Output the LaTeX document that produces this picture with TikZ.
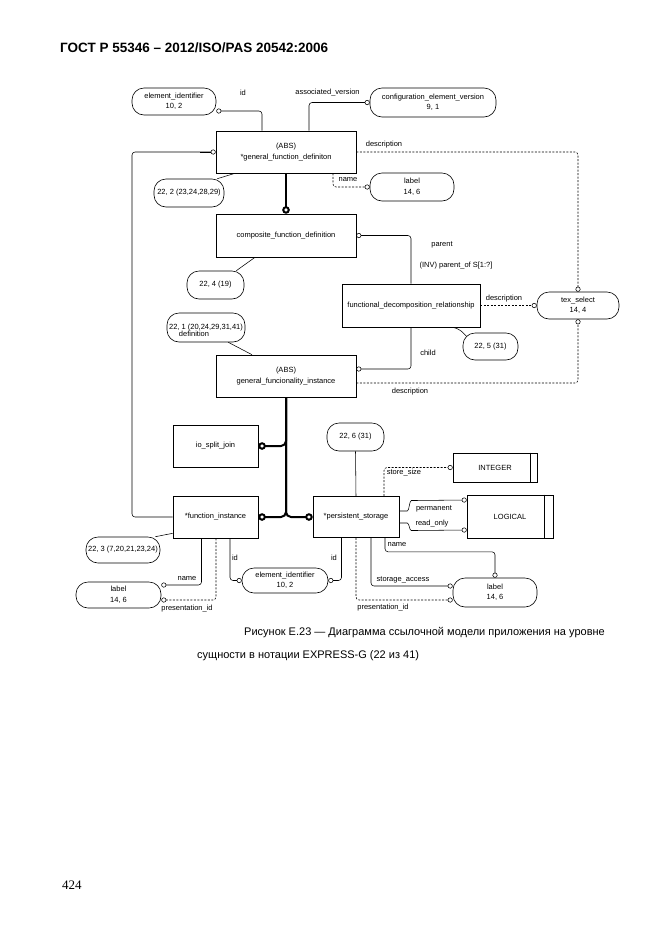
\documentclass[tikz,border=0pt]{standalone}
\usepackage{fontspec}
\setmainfont{Liberation Sans}
\newfontfamily\serifpg{Liberation Serif}
\usetikzlibrary{arrows.meta}
\begin{document}
\begin{tikzpicture}[x=1pt,y=-1pt,
  every node/.style={font=\fontsize{7.5}{10.5}\selectfont, inner sep=0pt},
  ent/.style={draw, line width=0.6pt, align=center},
  oval/.style={draw, line width=0.6pt, rounded corners=12pt, align=center},
  conn/.style={line width=0.55pt, rounded corners=3pt},
  dconn/.style={conn, dash pattern=on 2pt off 1.5pt},
  ring/.style={-{Circle[open,length=5pt,width=5pt]}},
  thk/.style={line width=2pt, rounded corners=5pt, -{Circle[open,length=7.5pt,width=7.5pt]}},
  lab/.style={font=\fontsize{7.5}{9}\selectfont}
]
\useasboundingbox (0,0) rectangle (662,935);

% header, caption, page number
\node[anchor=west, font=\bfseries\fontsize{13.5}{16}\selectfont] (hdr) at (60,48) {ГОСТ Р 55346 – 2012/ISO/PAS 20542:2006};
\node[anchor=west, font=\fontsize{11}{13}\selectfont] (cap1) at (244,633) {Рисунок Е.23 — Диаграмма ссылочной модели приложения на уровне};
\node[anchor=west, font=\fontsize{11}{13}\selectfont] (cap2) at (197,656) {сущности в нотации EXPRESS-G (22 из 41)};
\node[anchor=west, font=\serifpg\fontsize{13}{15}\selectfont] (pg) at (62,885) {424};

% entities
\node[oval, minimum width=84pt, minimum height=27pt] (ei1) at (174,101.5) {element\_identifier\\10, 2};
\node[ent, minimum width=140pt, minimum height=42pt] (gfd) at (286,152) {(ABS)\\*general\_function\_definiton};
\node[oval, minimum width=126pt, minimum height=29pt] (cev) at (433,102.5) {configuration\_element\_version\\9, 1};
\node[oval, minimum width=84pt, minimum height=28pt] (lbl1) at (412,187) {label\\14, 6};
\node[oval, minimum width=70pt, minimum height=28pt] (o222) at (189,193) {22, 2 (23,24,28,29)};
\node[ent, minimum width=140pt, minimum height=43pt] (cfd) at (286,235.5) {composite\_function\_definition};
\node[oval, minimum width=57pt, minimum height=28pt] (o224) at (215.5,285) {22, 4 (19)};
\node[ent, minimum width=138pt, minimum height=43pt] (fdr) at (411,305.5) {functional\_decomposition\_relationship};
\node[oval, minimum width=82pt, minimum height=27pt] (tex) at (578,305.5) {tex\_select\\14, 4};
\node[oval, minimum width=55pt, minimum height=27pt] (o225) at (490.5,346.5) {22, 5 (31)};
\node[oval, minimum width=78pt, minimum height=29pt] (o221) at (206,327.5) {22, 1 (20,24,29,31,41)};
\node[ent, minimum width=140pt, minimum height=42pt] (gfi) at (286,376) {(ABS)\\general\_funcionality\_instance};
\node[ent, minimum width=85pt, minimum height=42pt] (isj) at (215.5,446) {io\_split\_join};
\node[ent, minimum width=85pt, minimum height=42pt] (fi) at (215.5,517) {*function\_instance};
\node[oval, minimum width=74pt, minimum height=26pt] (o223) at (123,550) {22, 3 (7,20,21,23,24)};
\node[oval, minimum width=85pt, minimum height=26pt] (lbl2) at (118.5,595) {label\\14, 6};
\node[oval, minimum width=86pt, minimum height=25pt] (ei2) at (285,580.5) {element\_identifier\\10, 2};
\node[oval, minimum width=57pt, minimum height=28pt] (o226) at (355.5,437) {22, 6 (31)};
\node[ent, minimum width=86pt, minimum height=41pt] (ps) at (356,517) {*persistent\_storage};
\node[ent, minimum width=84pt, minimum height=29pt, text width=70pt] (int) at (495,467.5) {INTEGER};
\node[ent, minimum width=86pt, minimum height=43pt, text width=70pt] (logi) at (510,516.5) {LOGICAL};
\node[oval, minimum width=84pt, minimum height=29pt] (lbl3) at (495,592.5) {label\\14, 6};
\draw[line width=0.6pt] ([xshift=-7pt]int.north east) -- ([xshift=-7pt]int.south east);
\draw[line width=0.6pt] ([xshift=-9pt]logi.north east) -- ([xshift=-9pt]logi.south east);

% top connectors
\draw[conn, ring] ([xshift=-24pt]gfd.north) |- ([yshift=-9.5pt]ei1.east);
\node[lab] (l_id1) at (243,93) {id};
\draw[conn, ring] ([xshift=23pt]gfd.north) |- (cev.west);
\node[lab] (l_av) at (327.5,93) {associated\_version};
\draw[dconn, ring] (gfd.east) -| (tex.north);
\node[lab] (l_d1) at (384,145) {description};
\draw[dconn, ring] ([xshift=47pt]gfd.south) |- (lbl1.west);
\node[lab] (l_n1) at (348,180) {name};
\draw[conn] ([xshift=-51pt]gfd.south) -- ([xshift=-7pt]o222.north east);
\draw[conn] (fi.west) -- (fi.west -| 132,0) -- (gfd.west -| 132,0) -- ([xshift=-4.5pt]gfd.west);
\draw[conn, ring] (gfd.west -| 200,0) -- (gfd.west);
\draw[thk] (gfd.south) -- (cfd.north);

% middle connectors
\draw[conn, ring] (fdr.north) |- (cfd.east);
\node[lab] (l_par) at (442,245) {parent};
\node[lab] (l_inv) at (456,266) {(INV) parent\_of S[1:?]};
\draw[conn] ([xshift=-31pt]cfd.south) -- ([xshift=-8pt]o224.north east);
\draw[dconn, ring] (fdr.east) -- (tex.west);
\node[lab] (l_d2) at (504,299) {description};
\draw[conn] ([xshift=41pt]fdr.south) .. controls +(8,1) and +(-4,-4) .. ([xshift=4pt,yshift=10pt]o225.west);
\draw[conn, ring] (fdr.south) |- ([yshift=7pt]gfi.east);
\node[lab] (l_ch) at (428,353) {child};
\draw[dconn, ring] ([yshift=-7pt]gfi.east) -| (tex.south);
\node[lab] (l_d3) at (410,392) {description};
\draw[conn] ([xshift=-34pt]gfi.north) -- ([xshift=-17pt]o221.south east);
\node[lab] (l_def) at (194,334) {definition};

% subtype tree
\draw[thk] (gfi.south) |- (isj.east);
\draw[thk] (gfi.south) |- (fi.east);
\draw[thk] (gfi.south) |- (ps.west);

% bottom left connectors
\draw[conn] ([yshift=5pt]fi.south west) -- ([xshift=-5pt]o223.north east);
\draw[conn, ring] ([xshift=-14pt]fi.south) |- ([yshift=10pt]lbl2.east);
\node[lab] (l_n2) at (187,579) {name};
\draw[dconn, ring] ([xshift=0.5pt]fi.south) |- ([yshift=-5pt]lbl2.east);
\node[lab] (l_pi1) at (187,609) {presentation\_id};
\draw[conn, ring] ([xshift=14.5pt]fi.south) |- (ei2.west);
\node[lab] (l_id2) at (235,558) {id};

% bottom right connectors
\draw[conn] (o226.south) -- (ps.north);
\draw[dconn, ring] ([xshift=28pt]ps.north) |- (int.west);
\node[lab] (l_ss) at (404,473) {store\_size};
\draw[conn, ring] ([yshift=6pt]ps.east) -- ++(5,0) .. controls +(5,0) and +(-5,0) .. ++(10,-10.5) -- ([yshift=16.5pt]logi.west);
\node[lab] (l_pm) at (434,509) {permanent};
\draw[conn, ring] ([yshift=-6pt]ps.east) -- ++(5,0) .. controls +(5,0) and +(-5,0) .. ++(10,7.5) -- ([yshift=-13.5pt]logi.west);
\node[lab] (l_ro) at (432,524) {read\_only};
\draw[conn, ring] ([xshift=-14.5pt]ps.south) |- (ei2.east);
\node[lab] (l_id3) at (334,558) {id};
\draw[conn, ring] ([xshift=29pt]ps.south) -- ++(0,14) -| (lbl3.north);
\node[lab] (l_n3) at (397,545) {name};
\draw[conn, ring] ([xshift=15pt]ps.south) |- ([yshift=6.5pt]lbl3.west);
\node[lab] (l_sa) at (403,580) {storage\_access};
\draw[dconn, ring] (ps.south) |- ([yshift=-7.5pt]lbl3.west);
\node[lab] (l_pi2) at (383,608) {presentation\_id};
\end{tikzpicture}
\end{document}
